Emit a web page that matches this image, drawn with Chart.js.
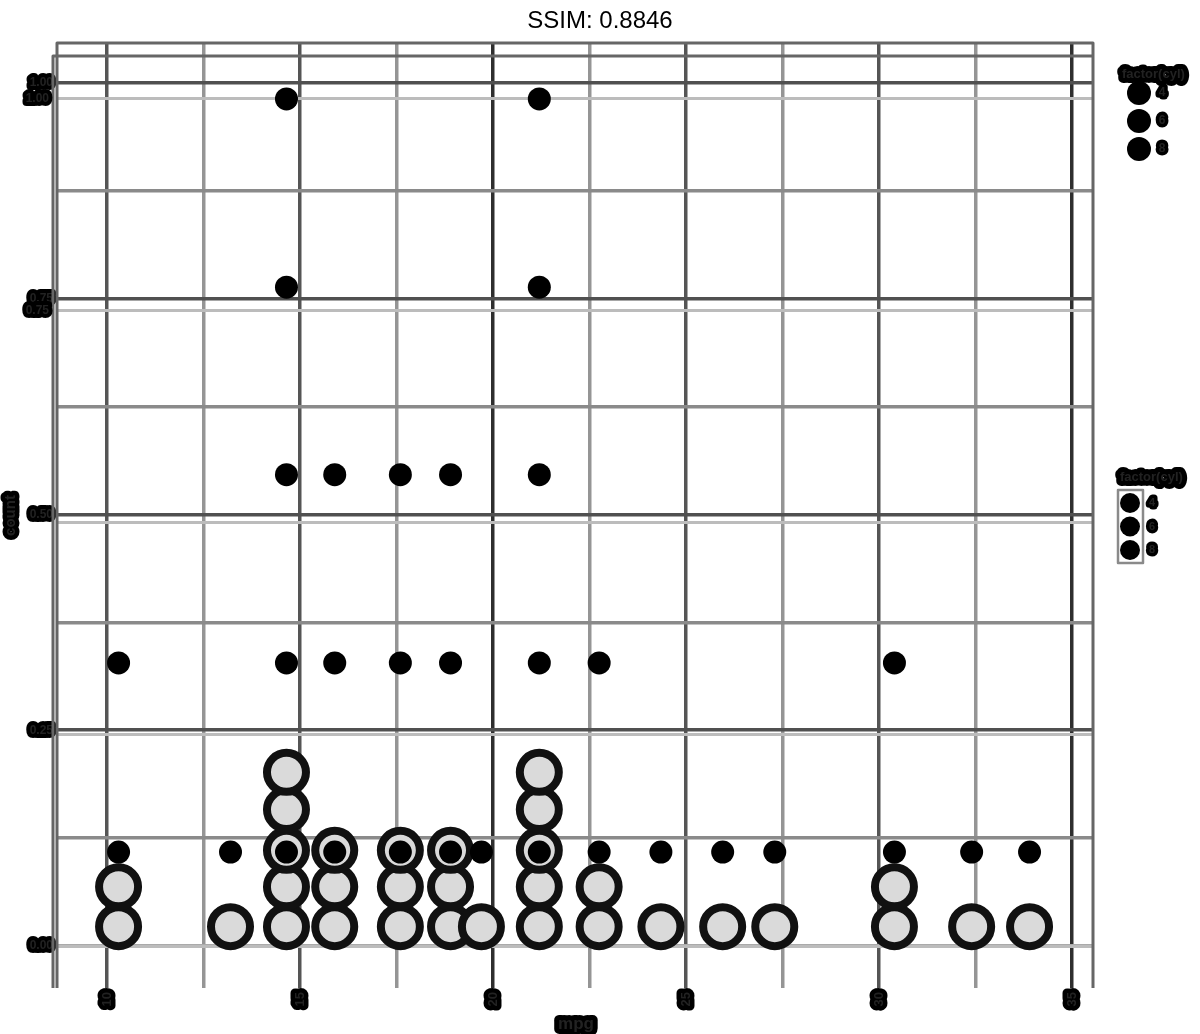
<!DOCTYPE html>
<html>
<head>
<meta charset="utf-8">
<title>mpg dotplot</title>
<script src="https://cdn.jsdelivr.net/npm/chart.js@4.4.1/dist/chart.umd.min.js"></script>
<style>
  html, body { margin: 0; padding: 0; background: #fff; }
  #wrap { width: 1200px; height: 1034px; }
</style>
</head>
<body>
<div id="wrap"><canvas id="dotChart" width="1200" height="1034"></canvas></div>
<script>
// mtcars mpg, binned: bin centre and number of cars in each bin
const binMpg = [10.3, 13.2, 14.65, 15.9, 17.6, 18.9, 19.7, 21.2, 22.75, 24.35, 25.95, 27.3, 30.4, 32.4, 33.9];
const binCount = [2, 1, 5, 3, 3, 3, 1, 5, 2, 1, 1, 1, 2, 1, 1];

// height of the n-th stacked dot, and of the n-th count marker
const stackY = [0.024, 0.071, 0.114, 0.162, 0.206];
const countY = [0.112, 0.335, 0.557, 0.778, 1.0];

// axes
const xMajor = [10, 15, 20, 25, 30, 35];
const xMinor = [12.5, 17.5, 22.5, 27.5, 32.5];
const yMajor = [0, 0.25, 0.5, 0.75, 1];
const yMinor = [0.125, 0.375, 0.625, 0.875];
const y2Grid = [0, 0.25, 0.5, 0.75, 1];
const y2Labels = [0.75, 1];

const titleText = "SSIM: 0.8846";
const xTitle = "mpg";
const yTitle = "count";
const legendTitle = "factor(cyl)";
const legendLevels = ["4", "6", "8"];

const FONT = "'Liberation Sans', Arial, sans-serif";

// build the points from the bins
const bigDots = [];
const countDots = [];
binMpg.forEach((x, i) => {
  for (let k = 0; k < binCount[i]; k++) {
    bigDots.push({ x: x, y: stackY[k] });
    countDots.push({ x: x, y: countY[k] });
  }
});

// thick outlined text, the reference renders all labels like this
function blobText(ctx, text, x, y, size, stroke, align, rot) {
  ctx.save();
  ctx.translate(x, y);
  if (rot) ctx.rotate(rot);
  ctx.font = `bold ${size}px ${FONT}`;
  ctx.textAlign = align;
  ctx.textBaseline = "middle";
  ctx.lineJoin = "round";
  ctx.lineWidth = stroke;
  ctx.strokeStyle = "#000";
  ctx.strokeText(text, 0, 0);
  ctx.fillStyle = "#222";
  ctx.fillText(text, 0, 0);
  ctx.restore();
}

const decor = {
  id: "decor",
  beforeDraw(chart) {
    chart.ctx.lineJoin = "round";
  },
  beforeDatasetsDraw(chart) {
    const { ctx, chartArea: a } = chart;
    ctx.save();
    ctx.strokeStyle = "#666";
    ctx.lineWidth = 3;
    ctx.beginPath();
    // outer frame (two slightly offset panels)
    ctx.moveTo(a.left, a.bottom); ctx.lineTo(a.left, a.top); ctx.lineTo(a.right, a.top);
    ctx.lineTo(a.right, a.bottom);
    ctx.moveTo(a.left - 4, a.bottom); ctx.lineTo(a.left - 4, a.top + 13); ctx.lineTo(a.right, a.top + 13);
    ctx.stroke();
    ctx.restore();
  },
  afterDraw(chart) {
    const { ctx, chartArea: a } = chart;
    const y2 = chart.scales.y2;

    ctx.save();
    ctx.font = `24px ${FONT}`;
    ctx.textAlign = "center";
    ctx.textBaseline = "alphabetic";
    ctx.fillStyle = "#000";
    ctx.fillText(titleText, chart.width / 2, 28);
    ctx.restore();

    // second set of y labels
    y2Labels.forEach(v => {
      blobText(ctx, v.toFixed(2), a.left - 8, y2.getPixelForValue(v), 12, 8, "right");
    });

    blobText(ctx, yTitle, 11, (a.top + a.bottom) / 2, 15, 9, "center", -Math.PI / 2);
    blobText(ctx, xTitle, (a.left + a.right) / 2 + 1, 1024, 17, 10, "center");

    // legends
    const lx = a.right + 25;
    blobText(ctx, legendTitle, lx + 4, 74, 13, 10, "left");
    legendLevels.forEach((lab, i) => {
      const ly = 93 + i * 28;
      ctx.beginPath();
      ctx.arc(lx + 21, ly, 12, 0, Math.PI * 2);
      ctx.fillStyle = "#000";
      ctx.fill();
      blobText(ctx, lab, lx + 44, ly, 12, 7, "center");
    });

    blobText(ctx, legendTitle, lx + 2, 477, 13, 10, "left");
    ctx.save();
    ctx.strokeStyle = "#8a8a8a";
    ctx.lineWidth = 2.5;
    ctx.strokeRect(lx, 490, 25, 73);
    ctx.restore();
    legendLevels.forEach((lab, i) => {
      const ly = 503 + i * 23.5;
      ctx.beginPath();
      ctx.arc(lx + 12, ly, 10, 0, Math.PI * 2);
      ctx.fillStyle = "#000";
      ctx.fill();
      blobText(ctx, lab, lx + 34, ly, 11, 7, "center");
    });
  }
};

function xGridColor(c) {
  const v = c.tick && c.tick.value;
  if (v === 20 || v === 35) return "#2e2e2e";
  if (xMajor.includes(v)) return "#555";
  return "#959595";
}

function yGridColor(c) {
  const v = c.tick && c.tick.value;
  if (v === 0) return "#aaa";
  if (yMajor.includes(v)) return "#505050";
  return "#8a8a8a";
}

new Chart(document.getElementById("dotChart"), {
  type: "scatter",
  data: {
    datasets: [
      {
        label: "count",
        data: countDots,
        yAxisID: "y2",
        pointRadius: 11.5,
        pointBorderWidth: 0,
        pointBackgroundColor: "#000"
      },
      {
        label: "mpg",
        data: bigDots,
        yAxisID: "y2",
        pointRadius: 19.5,
        pointBorderWidth: 8,
        pointBackgroundColor: "#dadada",
        pointBorderColor: "#111"
      }
    ]
  },
  options: {
    responsive: false,
    animation: false,
    events: [],
    layout: { padding: { top: 43, right: 107, left: 0, bottom: 0 } },
    plugins: {
      legend: { display: false },
      title: { display: false },
      tooltip: { enabled: false }
    },
    scales: {
      x: {
        type: "linear",
        min: 8.705,
        max: 35.544,
        afterBuildTicks: s => {
          s.ticks = xMajor.concat(xMinor).sort((a, b) => a - b).map(v => ({ value: v }));
        },
        afterFit: s => { s.height = 46; },
        border: { display: false },
        grid: { drawTicks: false, lineWidth: 3.5, color: xGridColor },
        ticks: {
          autoSkip: false,
          minRotation: 90,
          maxRotation: 90,
          padding: 4,
          font: { family: FONT, size: 13, weight: "bold" },
          color: "#222",
          textStrokeColor: "#000",
          textStrokeWidth: 9,
          callback: v => (xMajor.includes(v) ? String(v) : "")
        }
      },
      y: {
        position: "left",
        min: -0.0487,
        max: 1.0463,
        afterBuildTicks: s => {
          s.ticks = yMajor.concat(yMinor).sort((a, b) => a - b).map(v => ({ value: v }));
        },
        afterFit: s => { s.width = 57; },
        border: { display: false },
        grid: { drawTicks: false, lineWidth: 3.5, color: yGridColor },
        ticks: {
          autoSkip: false,
          padding: 4,
          font: { family: FONT, size: 12, weight: "bold" },
          color: "#222",
          textStrokeColor: "#000",
          textStrokeWidth: 8,
          callback: v => (yMajor.includes(v) ? v.toFixed(2) : "")
        }
      },
      y2: {
        position: "right",
        min: -0.04835,
        max: 1.066,
        afterBuildTicks: s => {
          s.ticks = y2Grid.map(v => ({ value: v }));
        },
        afterFit: s => { s.width = 0; },
        border: { display: false },
        grid: { drawTicks: false, lineWidth: 3, color: "#bcbcbc" },
        ticks: { display: false }
      }
    }
  },
  plugins: [decor]
});
</script>
</body>
</html>
